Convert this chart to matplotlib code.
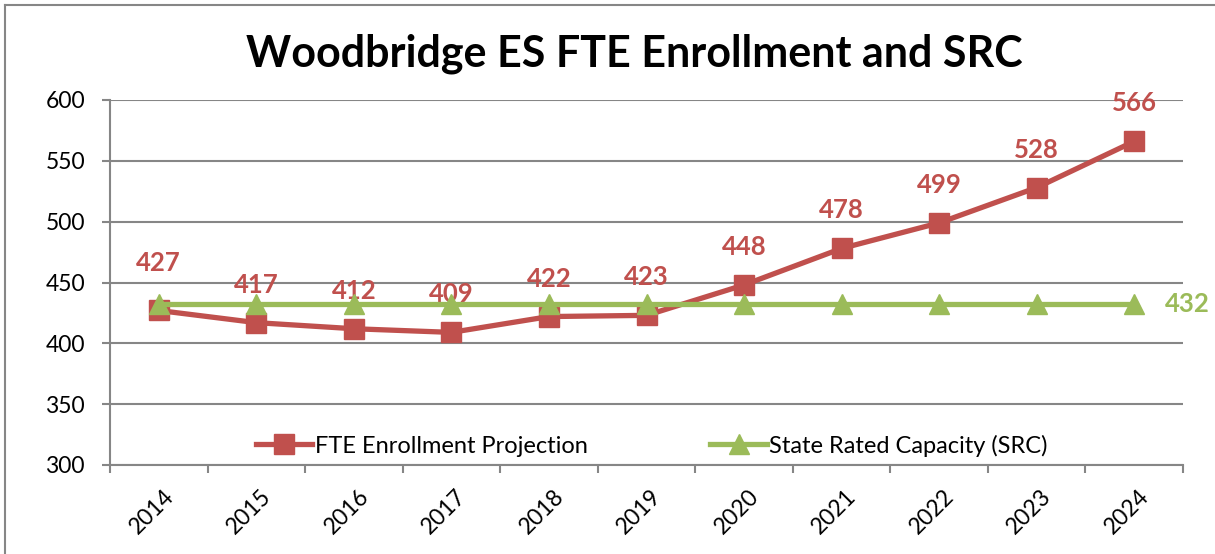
import matplotlib
matplotlib.use('Agg')
import matplotlib.pyplot as plt
import matplotlib.transforms as mtransforms
from matplotlib.lines import Line2D
import numpy as np

plt.rcParams['font.family'] = ['Lato', 'DejaVu Sans']

# data
years = ['2014', '2015', '2016', '2017', '2018', '2019', '2020', '2021', '2022', '2023', '2024']
fte = [427, 417, 412, 409, 422, 423, 448, 478, 499, 528, 566]
src = [432, 432, 432, 432, 432, 432, 432, 432, 432, 432, 432]

red = '#C0504D'
green = '#9BBB59'
grey = '#868686'

fig = plt.figure(figsize=(12.15, 5.54), dpi=100)
ax = fig.add_axes([110/1215, 1-465/554, (1183-110)/1215, (465-100)/554])

x = np.arange(len(years))
ax.plot(x, fte, color=red, lw=3.8, marker='s', ms=14, label='FTE Enrollment Projection', zorder=3)
ax.plot(x, src, color=green, lw=3.8, marker='^', ms=15, label='State Rated Capacity (SRC)', zorder=4)

# data labels
for i, v in enumerate(fte):
    off = 47 if i == 0 else 38
    ax.annotate(str(v), (x[i], v), xytext=(0, off*0.72), textcoords='offset points',
                ha='center', va='center', color=red, fontsize=18.5, fontweight='bold')
ax.annotate(str(src[-1]), (x[-1], src[-1]), xytext=(53*0.72, 0), textcoords='offset points',
            ha='center', va='center', color=green, fontsize=18.5, fontweight='bold')

ax.set_xlim(-0.5, len(years)-0.5)
ax.set_ylim(300, 600)
ax.set_yticks(np.arange(300, 601, 50))
ax.yaxis.grid(True, color=grey, lw=1.5)
ax.set_axisbelow(True)

ax.set_xticks(x)
ax.set_xticklabels(years, rotation=45, ha='right', va='top', rotation_mode='anchor', fontsize=16.5)
ax.set_xticks(np.arange(-0.5, len(years)), minor=True)
ax.tick_params(axis='x', which='major', length=0, pad=15)
ax.tick_params(axis='x', which='minor', length=6, width=1.5, color=grey, direction='out')
ax.tick_params(axis='y', length=6, width=1.5, color=grey, labelsize=16.5, pad=12)
shift = mtransforms.ScaledTranslation(4/100, 0, fig.dpi_scale_trans)
for lab in ax.get_xticklabels():
    lab.set_transform(lab.get_transform() + shift)

for s in ['top', 'right']:
    ax.spines[s].set_visible(False)
for s in ['left', 'bottom']:
    ax.spines[s].set_color(grey)
    ax.spines[s].set_linewidth(1.5)

ax.legend(loc='lower center', bbox_to_anchor=(0.505, -0.035), ncol=2, frameon=False,
          fontsize=17, columnspacing=5.2, handlelength=2.4, handletextpad=0.1)

fig.text(634/1215, 1-54/554, 'Woodbridge ES FTE Enrollment and SRC', ha='center', va='center',
         fontsize=31, fontweight='bold')

# outer chart border (top and left only visible)
bx, by = 5/1215, 1-5/554
fig.add_artist(Line2D([bx, 1], [by, by], transform=fig.transFigure, color=grey, lw=1.5))
fig.add_artist(Line2D([bx, bx], [0, by], transform=fig.transFigure, color=grey, lw=1.5))

fig.savefig('out.png', dpi=100)
